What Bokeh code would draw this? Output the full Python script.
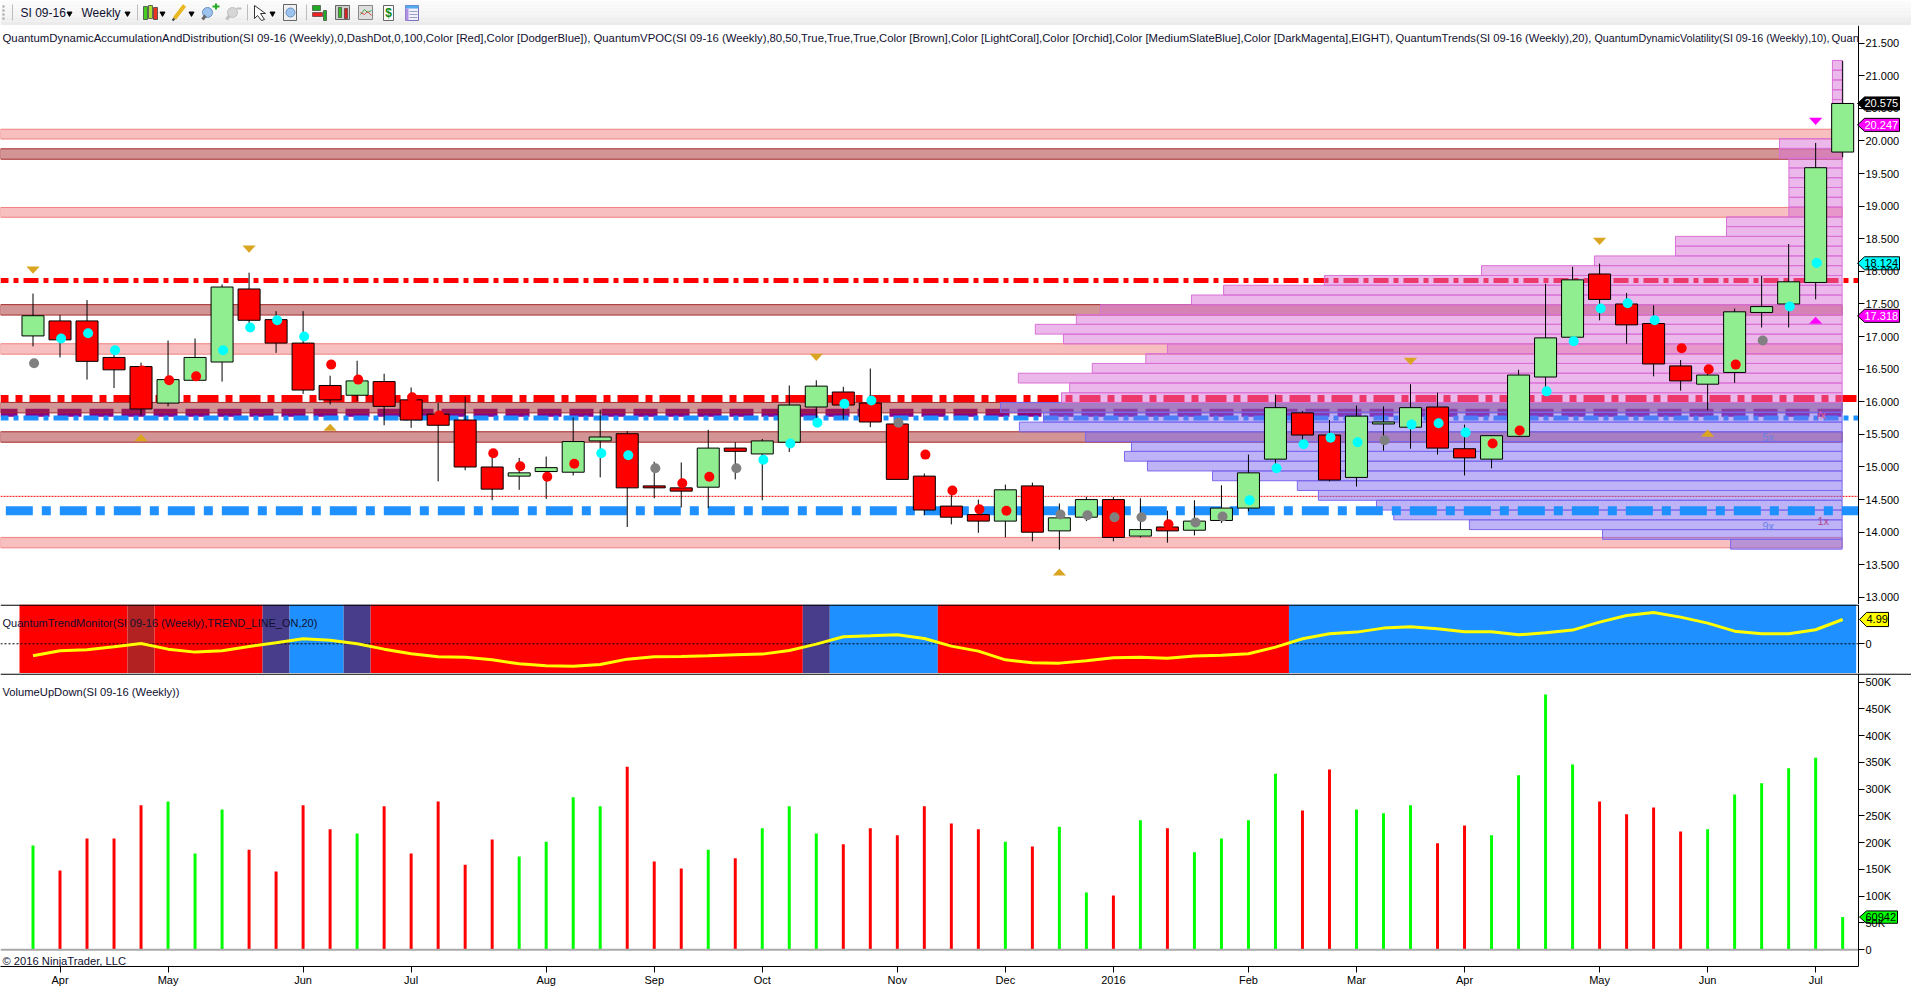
from bokeh.plotting import figure
from bokeh.layouts import column
from bokeh.models import Range1d, LinearAxis, FixedTicker, Label, PolyAnnotation
from bokeh.core.properties import value
from bokeh.embed import file_html
from bokeh.resources import INLINE

FONT = "Liberation Sans"

# ---- data ----
opens = [17.01,17.24,17.24,16.68,16.54,15.98,16.33,16.61,17.73,17.26,16.90,16.25,16.10,16.31,16.03,15.81,15.72,
         15.00,14.86,14.93,14.92,15.40,15.51,14.71,14.68,14.69,15.29,15.20,15.38,15.92,16.15,15.98,15.66,14.86,
         14.40,14.27,14.17,14.71,14.02,14.23,14.50,13.94,14.08,14.03,14.18,14.37,15.12,15.83,15.49,14.84,15.66,
         15.61,15.92,15.28,15.12,15.47,16.38,16.99,17.96,17.50,17.20,16.55,16.27,16.45,17.37,17.50,17.83,19.83]
closes = [17.32,16.95,16.62,16.49,15.89,16.34,16.68,17.76,17.25,16.90,16.18,16.03,16.32,15.93,15.72,15.64,15.00,
          14.66,14.91,14.99,15.39,15.46,14.68,14.68,14.63,15.29,15.24,15.40,15.95,16.24,15.95,15.69,14.81,14.34,
          14.23,14.17,14.65,14.00,14.22,14.50,13.92,14.04,14.02,14.17,14.37,14.91,15.91,15.49,14.80,15.78,15.69,
          15.91,15.29,15.14,15.48,16.41,16.98,17.87,17.57,17.18,16.58,16.32,16.41,17.38,17.46,17.84,19.59,20.575]
highs = [17.66,17.33,17.56,16.79,16.60,16.94,16.97,17.80,17.98,17.39,17.39,16.40,16.63,16.43,16.22,15.98,16.08,
         15.20,15.14,15.16,15.76,15.88,15.55,15.08,15.07,15.57,15.38,15.43,16.25,16.33,16.23,16.51,15.71,14.90,
         14.64,14.50,14.73,14.76,14.44,14.54,14.54,14.52,14.33,14.49,14.72,15.19,16.11,15.86,15.72,15.94,15.93,
         16.27,16.14,15.65,15.48,16.49,17.81,18.07,18.12,17.67,17.48,16.64,16.49,17.43,17.93,18.42,19.97,21.23]
lows = [16.85,16.68,16.34,16.21,15.79,15.93,16.33,16.31,17.15,16.75,16.12,15.96,16.01,15.64,15.60,14.78,14.95,
        14.49,14.65,14.51,14.87,14.84,14.08,14.52,14.38,14.37,14.81,14.49,15.23,15.69,15.73,15.61,14.81,14.26,
        14.12,13.99,13.92,13.86,13.73,14.17,13.86,13.92,13.84,13.95,14.14,14.32,15.05,15.35,14.78,14.70,15.25,
        15.28,15.19,14.87,14.98,15.46,16.16,16.94,17.25,16.89,16.39,16.17,15.87,16.29,17.14,17.14,17.57,19.75]
dot_values = [16.59,16.97,17.05,16.79,16.48,16.33,16.39,16.79,17.14,17.25,17.00,16.57,16.34,None,16.07,15.79,None,
              15.21,15.01,14.85,15.05,15.21,15.18,14.98,14.75,14.85,14.98,15.11,15.36,15.68,15.97,16.02,15.68,15.19,
              14.64,14.35,14.33,None,14.27,14.26,14.23,14.23,14.12,14.15,14.24,14.49,14.98,15.35,15.45,15.38,15.41,
              15.65,15.67,15.53,15.36,15.56,16.16,16.93,17.43,17.51,17.25,16.82,16.50,16.57,16.94,17.46,18.13,None]
dot_kinds = ["g","c","c","c","r","r","r","c","c","c","c","r","r","-","r","r","-",
             "r","r","r","r","c","c","g","r","r","g","c","c","c","c","c","g","r",
             "r","r","r","-","g","g","g","g","r","g","g","c","c","c","c","c","g",
             "c","c","c","r","r","c","c","c","c","c","r","r","r","g","c","c","-"]
volumes = [195,148,208,208,270,277,180,262,187,146,270,225,217,268,180,277,159,206,174,202,285,268,342,165,152,187,
           171,227,268,217,197,227,214,268,236,225,202,193,230,107,101.5,242,227,182,208,242,329,260,337,262,255,270,
           199,232,214,326,477,346,277,253,266,221,225,290,311,339,359,60.942]
trend = [-2.47,-1.44,-1.23,-0.62,0.07,-1.10,-1.71,-1.44,-0.55,0.2,1.03,0.75,0,-1.1,-2.05,-2.67,-2.74,-3.29,-4.11,
         -4.52,-4.59,-4.25,-3.15,-2.67,-2.6,-2.47,-2.26,-2.12,-1.37,-0.07,1.44,1.64,1.85,1.1,-0.48,-1.5,-3.29,-3.9,
         -3.97,-3.49,-2.88,-2.74,-2.95,-2.53,-2.33,-2.05,-0.68,1.03,2.05,2.4,3.22,3.49,3.08,2.47,2.47,1.85,2.26,2.81,
         4.45,5.82,6.44,5.48,4.25,2.6,2.05,2.05,2.88,4.99]
trend_runs = [("red",4),("firebrick",1),("red",4),("darkslateblue",1),("dodgerblue",2),("darkslateblue",1),("red",16),
              ("darkslateblue",1),("dodgerblue",4),("red",13),("dodgerblue",21)]
pink_bands = [(20.03,20.18),(18.83,18.98),(16.73,16.89),(13.76,13.92)]
brown_bands = [(19.72,19.88),(17.33,17.49),(15.83,15.99),(15.38,15.54)]
profile_bottom = 13.74
profile_step = 0.1499
profile_widths = [4.13,8.87,13.8,16.6,17.24,19.39,20.17,23.31,25.72,26.57,26.31,28.01,30.46,29.57,31.16,
                  28.9,28.6,30.5,27.76,25.78,24.98,28.83,29.87,28.35,27.46,24.09,22.9,19.17,13.35,9.17,6.17,6.17,
                  4.28,4.28,1.97,1.97,1.97,1.97,1.97,1.97,2.32,2.32,0.36,0.36,0.36,0.36,0.36,0.36,0.36,0.36]
profile_split = 15
gold_down = [(0,18.02),(8,18.34),(29,16.68),(51,16.62),(58,18.46)]
gold_up = [(4,15.45),(11,15.61),(38,13.39),(62,15.52)]
magenta_down = [(66,20.30)]
magenta_up = [(66,17.25)]
month_ticks = {1:"Apr",5:"May",10:"Jun",14:"Jul",19:"Aug",23:"Sep",27:"Oct",32:"Nov",36:"Dec",40:"2016",45:"Feb",
               49:"Mar",53:"Apr",58:"May",62:"Jun",66:"Jul"}
price_ticks = [13+0.5*i for i in range(18)]
volume_ticks = [50*i for i in range(11)]
legend_main = [("QuantumDynamicAccumulationAndDistribution(SI 09-16 (Weekly),0,DashDot,0,100,Color [Red],Color [DodgerBlue]),", 2, "11.4px"),
               ("QuantumVPOC(SI 09-16 (Weekly),80,50,True,True,True,Color [Brown],Color [LightCoral],Color [Orchid],"
                "Color [MediumSlateBlue],Color [DarkMagenta],EIGHT),", 593, "11.33px"),
               ("QuantumTrends(SI 09-16 (Weekly),20),", 1395, "11.2px"),
               ("QuantumDynamicVolatility(SI 09-16 (Weekly),10),", 1594, "10.7px"),
               ("Quan", 1831, "11.2px")]
legend_trend = "QuantumTrendMonitor(SI 09-16 (Weekly),TREND_LINE_ON,20)"
legend_volume = "VolumeUpDown(SI 09-16 (Weekly))"
copyright_text = "\u00a9 2016 NinjaTrader, LLC"

# ---- geometry ----
AXIS_PX = 1858
TOTAL_W = 1911
PX_PER_BAR = 27.01
X_START = -32.5 / PX_PER_BAR
X_AXIS = (AXIS_PX - 32.5) / PX_PER_BAR
X_END = (TOTAL_W - 32.5) / PX_PER_BAR
PROFILE_END = 66.98
n = len(opens)
xs = list(range(n))
TEXT = "11px"
LEGEND_TEXT = "11.2px"


def style_axis(ax):
    ax.major_tick_in = 0
    ax.major_tick_out = 6
    ax.minor_tick_line_color = None
    ax.axis_line_color = "black"
    ax.major_tick_line_color = "black"
    ax.major_label_standoff = 1
    ax.major_label_text_font = FONT
    ax.major_label_text_font_size = TEXT
    ax.major_label_text_color = "black"


def base_fig(h, y0, y1, ticker, overrides=None, extra_bottom=0):
    p = figure(frame_width=TOTAL_W, frame_height=h, output_backend="svg", toolbar_location=None,
               x_range=Range1d(X_START, X_END), y_range=Range1d(y0, y1), min_border=0,
               min_border_bottom=extra_bottom, x_axis_location=None, y_axis_location=None, outline_line_color=None)
    p.grid.visible = False
    ax = LinearAxis(ticker=FixedTicker(ticks=ticker), fixed_location=X_AXIS)
    if overrides:
        ax.major_label_overrides = overrides
    style_axis(ax)
    p.add_layout(ax, "right")
    return p


def flag(p, val, half, fill, txt, txt_color, left=1857, right=1899, pad=7):
    bar = lambda px: (px - 32.5) / PX_PER_BAR
    p.patch([bar(left), bar(left + 7), bar(right), bar(right), bar(left + 7)],
            [val, val + half, val + half, val - half, val - half], fill_color=fill, line_color="black", line_width=1)
    p.add_layout(Label(x=left + pad, y=val, x_units="screen", y_units="data", text=txt, text_color=txt_color,
                       text_font=FONT, text_font_size=TEXT, text_baseline="middle"))


def caption(p, txt, sx, sy, color="#101030", size=LEGEND_TEXT):
    p.add_layout(Label(x=sx, y=sy, x_units="screen", y_units="screen", text=txt, text_color=color, text_font=FONT,
                       text_font_size=size, text_baseline="middle"))


def rule(p, x1, thick=1.3):
    p.add_layout(PolyAnnotation(xs=[0, x1, x1, 0], ys=[0, 0, thick, thick], xs_units="canvas", ys_units="canvas",
                                fill_color="black", fill_alpha=1, line_color=None))


def level(p, x0, y, end=X_AXIS, **kw):
    p.line([x0, end], [y, y], **kw)


# ---- toolbar ----
tb = figure(width=TOTAL_W, height=25, output_backend="svg", toolbar_location=None, x_range=Range1d(0, TOTAL_W),
            y_range=Range1d(25, 0), min_border=0, x_axis_location=None, y_axis_location=None,
            outline_line_color=None, background_fill_color="white")
tb.grid.visible = False
shades = ["#fbfbfb", "#f9f9f9", "#f7f7f7", "#f5f5f5", "#f3f3f3", "#efefef", "#ebebeb"]
tb.quad(left=[0] * 7, right=[TOTAL_W] * 7, top=[i * 3.5 for i in range(7)], bottom=[(i + 1) * 3.5 for i in range(7)],
        fill_color=shades, line_color=None)
tb.segment([12, 137, 247, 306], [4] * 4, [12, 137, 247, 306], [20] * 4, line_color="#bdbdbd", line_width=1)
tb.segment([3], [5], [3], [19], line_color="#a0a0a0", line_width=2, line_dash="2 2")
tb.scatter([69, 127, 162, 191, 272], [13] * 5, marker="inverted_triangle", size=5, fill_color="black", line_color="black")
tb.quad(left=[143, 148, 153], right=[147, 152, 157], top=[6, 5, 7], bottom=[19, 18, 19],
        fill_color=["#44cc22", "#aadd33", "#ee3322"], line_color="#333333", line_width=0.7)
tb.segment([174], [18], [184], [5], line_color="#e8b820", line_width=4)
tb.segment([172], [20], [174], [18], line_color="#444444", line_width=2)
tb.scatter([207, 232], [12, 12], marker="circle", size=10, fill_color=["#9cc4ee", "#d6d6d6"],
           line_color=["#6a90c0", "#c0c0c0"])
tb.segment([202, 226], [19, 19], [205, 229], [15, 15], line_color=["#6a6a6a", "#c0c0c0"], line_width=3)
tb.segment([212, 236], [6, 8], [219, 241], [6, 8], line_color=["#22aa22", "#c0c0c0"], line_width=2)
tb.segment([215.5], [3], [215.5], [9], line_color="#22aa22", line_width=2)
tb.patch([254, 265, 260, 264, 261, 257, 254], [5, 13, 13, 19, 20, 15, 18], fill_color="white", line_color="#333333")
tb.quad(left=[283], right=[296], top=[4], bottom=[20], fill_color="#f0f0f0", line_color="#666666")
tb.scatter([290], [12], marker="circle", size=9, fill_color="#9cc4ee", line_color="#6a90c0")
tb.quad(left=[312], right=[320], top=[5], bottom=[10], fill_color="#22aa22", line_color="#333333", line_width=0.6)
tb.quad(left=[312], right=[322], top=[12], bottom=[16], fill_color="#ee2222", line_color="#333333", line_width=0.6)
tb.quad(left=[323], right=[326], top=[10], bottom=[20], fill_color="#22aa22", line_color="#333333", line_width=0.6)
tb.quad(left=[335], right=[349], top=[5], bottom=[19], fill_color="#cfcfcf", line_color="#666666")
tb.quad(left=[338, 344], right=[341, 347], top=[7, 8], bottom=[17, 18], fill_color=["#33bb22", "#dd2222"],
        line_color="#333333", line_width=0.6)
tb.quad(left=[358], right=[372], top=[5], bottom=[19], fill_color="#dedede", line_color="#888888")
tb.line([360, 364, 367, 371], [14, 9, 12, 10], line_color="#33aa44")
tb.line([360, 364, 367, 371], [12, 14, 11, 15], line_color="#dd4444")
tb.quad(left=[383], right=[393], top=[5], bottom=[20], fill_color="#fbfbfb", line_color="#666666")
tb.text([388], [12.5], text=["$"], text_color="#118811", text_font_size="12px", text_font_style="bold",
        text_align="center", text_baseline="middle")
tb.quad(left=[405], right=[418], top=[5], bottom=[20], fill_color="#f2f0fa", line_color="#7a70c0")
tb.quad(left=[405], right=[418], top=[5], bottom=[8], fill_color="#55aaee", line_color=None)
tb.quad(left=[405], right=[408], top=[8], bottom=[20], fill_color="#b090e0", line_color=None)
tb.segment([409, 409, 409], [11, 14, 17], [417, 417, 417], [11, 14, 17], line_color="#9aa0c0")
tb.text([20, 81], [12.5, 12.5], text=["SI 09-16", "Weekly"], text_color="#101030", text_font_size="12px",
        text_font=value(FONT), text_baseline="middle")

# ---- price panel ----
p1 = base_fig(579, 12.891, 21.771, price_ticks, {t: f"{t:.3f}" for t in price_ticks})

level(p1, X_START, 15.83, end=PROFILE_END, line_color="darkmagenta", line_width=8, line_dash="24 8", line_dash_offset=7)
for lo, hi in pink_bands:
    p1.quad(left=[X_START], right=[PROFILE_END], bottom=[lo], top=[hi], fill_color="lightcoral", fill_alpha=0.5,
            line_color="lightcoral", line_width=1)
for lo, hi in brown_bands:
    p1.quad(left=[X_START], right=[PROFILE_END], bottom=[lo], top=[hi], fill_color="brown", fill_alpha=0.5,
            line_color="brown", line_width=1)
level(p1, X_START, 17.86, line_color="red", line_width=5, line_dash="15 5 5 5", line_dash_offset=7)
level(p1, X_START, 16.05, line_color="red", line_width=7, line_dash="21 7 7 7", line_dash_offset=13)
level(p1, X_START, 15.75, line_color="dodgerblue", line_width=5, line_dash="15 5 5 5", line_dash_offset=7)
level(p1, X_START, 14.55, line_color="red", line_width=1, line_dash="2 1")

rows = range(len(profile_widths))
prof_colors = ["mediumslateblue" if r < profile_split else "orchid" for r in rows]
p1.quad(left=[PROFILE_END - w for w in profile_widths], right=[PROFILE_END] * len(profile_widths),
        bottom=[profile_bottom + r * profile_step for r in rows],
        top=[profile_bottom + (r + 1) * profile_step for r in rows],
        fill_color=prof_colors, fill_alpha=0.5, line_color=prof_colors, line_width=1)
# the lower blue line sits above the profile, untinted
level(p1, -1.006, 14.33, line_color="dodgerblue", line_width=9, line_dash="27 9 9 9")

p1.segment(xs, highs, xs, lows, line_color="black", line_width=1)
p1.vbar(xs, 0.815, [max(o, c) for o, c in zip(opens, closes)], [min(o, c) for o, c in zip(opens, closes)],
        fill_color=["lightgreen" if c >= o else "red" for o, c in zip(opens, closes)], line_color="black", line_width=1)

kind_color = {"c": "cyan", "r": "red", "g": "gray"}
dx = [i for i, v in enumerate(dot_values) if v is not None]
p1.scatter([x + 0.04 for x in dx], [dot_values[i] for i in dx], marker="circle", size=10,
           fill_color=[kind_color[dot_kinds[i]] for i in dx], line_color=None)


def tri(points, color, up, half_w=0.245, half_h=0.055):
    xx, yy = [], []
    for x, v in points:
        xx.append([x - half_w, x + half_w, x])
        yy.append([v - half_h] * 2 + [v + half_h] if up else [v + half_h] * 2 + [v - half_h])
    p1.patches(xx, yy, fill_color=color, line_color=None)


tri(gold_down, "goldenrod", False)
tri(gold_up, "goldenrod", True)
tri(magenta_down, "magenta", False)
tri(magenta_up, "magenta", True)

for txt, sx, sy, col in [("/x", 1817, 189.5, "#e8608a"), ("5x", 1762, 167.5, "#6a80e8"),
                         ("9x", 1762, 79, "#6a80e8"), ("1x", 1817, 84, "#b04890")]:
    caption(p1, txt, sx, sy, col, "11px")
for txt, sx, size in legend_main:
    caption(p1, txt, sx, 566.7, size=size)
flag(p1, 20.575, 0.1, "black", "20.575", "white")
flag(p1, 20.247, 0.1, "magenta", "20.247", "white")
flag(p1, 18.124, 0.1, "cyan", "18.124", "black")
flag(p1, 17.318, 0.1, "magenta", "17.318", "white")

# ---- trend monitor ----
p2 = base_fig(69, -6.10, 8.07, [0])
start = -0.5
for c, k in trend_runs:
    p2.quad(left=[start], right=[start + k], bottom=[-6.10], top=[8.07], fill_color=c, line_color=None)
    start += k
level(p2, X_START, 0, line_color="black", line_width=1, line_dash="2 2")
p2.line(xs, trend, line_color="yellow", line_width=3)
caption(p2, legend_trend, 2, 51, size="11px")
rule(p2, AXIS_PX)
flag(p2, 4.99, 1.45, "yellow", "4.99", "black", left=1859, right=1888)

# ---- volume ----
p3 = base_fig(293, -31.4, 516.3, volume_ticks, {t: ("0" if t == 0 else f"{t}K") for t in volume_ticks}, extra_bottom=21)
xa = LinearAxis(ticker=FixedTicker(ticks=list(month_ticks)), major_label_overrides=dict(month_ticks),
                bounds=(X_START, X_AXIS))
style_axis(xa)
p3.add_layout(xa, "below")
p3.vbar(xs, 0.11, volumes, [0] * n, fill_color=["lime" if c >= o else "red" for o, c in zip(opens, closes)], line_color=None)
level(p3, X_START, 0, line_color="#a9a9a9", line_width=2)
caption(p3, legend_volume, 2, 275)
caption(p3, copyright_text, 2, 6)
rule(p3, TOTAL_W)
flag(p3, 60.942, 11.5, "lime", "60942", "black", left=1859, right=1897, pad=6)

page = column(tb, p1, p2, p3, spacing=0)
open("out.html", "w").write(file_html(page, INLINE))
